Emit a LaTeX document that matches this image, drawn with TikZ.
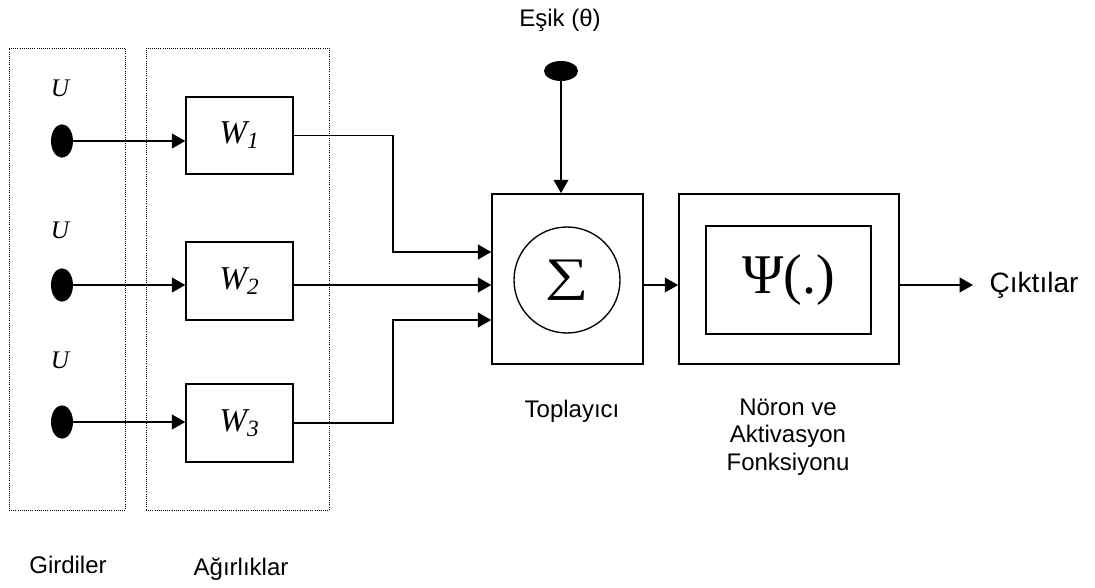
\documentclass[tikz,border=0pt]{standalone}
\usepackage{fontspec}
\usepackage{graphicx}
\setmainfont{Liberation Serif}
\setsansfont{Liberation Sans}
\usetikzlibrary{arrows.meta}
\usetikzlibrary{shapes}
\usetikzlibrary{positioning}

\begin{document}
\begin{tikzpicture}[
          x=0.75pt, y=-0.75pt,
          group/.style = {rectangle, draw, densely dotted, line width=0.6pt, inner sep=0pt},
          weight/.style = {rectangle, draw, line width=1.3pt, minimum width=80pt, minimum height=58pt, font=\fontsize{25}{25}\selectfont\itshape},
          dot/.style = {ellipse, fill=black, inner sep=0pt, minimum width=16.5pt, minimum height=25pt},
          block/.style = {rectangle, draw, line width=1.3pt, minimum width=113pt, minimum height=127.5pt},
          arrow/.style = {line width=1.3pt, -{Triangle[length=10pt,width=11pt]}},
          txt/.style = {font=\sffamily\fontsize{18}{20.6}\selectfont, align=center},
          ulabel/.style = {font=\fontsize{19}{19}\selectfont\itshape}
        ]
        \useasboundingbox (0,0) rectangle (1095,588);

        % Groups
        \node[group, minimum width=87pt, minimum height=346.5pt] (inputs) at (67,279) {};
        \node[group, minimum width=137.25pt, minimum height=346.5pt] (weights) at (237.5,279) {};

        % Inputs
        \node[dot] (in1) at (62,141) {};
        \node[dot] (in2) at (62,285) {};
        \node[dot] (in3) at (62,422) {};
        \node[ulabel] (u1) at (60,88) {U};
        \node[ulabel] (u2) at (60,230) {U};
        \node[ulabel] (u3) at (60,360) {U};

        % Weights
        \node[weight] (w1) at (239.5,135.5) {\raisebox{4pt}{W\textsubscript{1}}};
        \node[weight] (w2) at (239.5,281) {\raisebox{2pt}{W\textsubscript{2}}};
        \node[weight] (w3) at (239.5,423) {\raisebox{4pt}{W\textsubscript{3}}};

        % Summation and activation
        \node[block] (sum) at (567.5,279) {};
        \node[circle, draw, line width=1pt, inner sep=0pt, minimum size=79.5pt, font=\fontsize{35}{35}\selectfont] (sigma) at (567,280) {\scalebox{1.3}[1]{∑}};
        \node[block, minimum width=165pt] (act) at (789,279) {};
        \node[rectangle, draw, line width=1.3pt, minimum width=124pt, minimum height=81pt, font=\fontsize{42}{42}\selectfont] (psi) at (788.5,280) {Ψ(.)};

        % Threshold
        \node[dot, minimum width=25.5pt, minimum height=15pt] (theta) at (561,71) {};
        \node[txt, anchor=base] (esik) at (560,27) {Eşik (θ)};

        % Paths
        \draw[arrow] (in1) -- (in1 -| w1.west);
        \draw[arrow] (in2) -- (in2 -| w2.west);
        \draw[arrow] (in3) -- (in3 -| w3.west);

        \coordinate (j1) at (393,252);
        \coordinate (j3) at (393,320);
        \draw[arrow] (w1.east) -| (j1) -- (sum.west |- j1);
        \draw[arrow] (w2.east |- in2) -- (sum.west |- in2);
        \draw[arrow] (w3.east) -| (j3) -- (sum.west |- j3);
        \draw[arrow] (theta) -- (theta |- sum.north);
        \draw[arrow] (sum.east |- in2) -- (act.west |- in2);

        % Output
        \node[txt, anchor=west, font=\sffamily\fontsize{21}{21}\selectfont] (cikti) at (985,285) {Çıktılar};
        \draw[arrow, shorten >=9pt] (act.east |- cikti) -- (cikti.west);

        % Captions
        \node[txt, anchor=base] (toplayici) at (572,417) {Toplayıcı};
        \node[txt] (noron) at (788,437) {Nöron ve\\Aktivasyon\\Fonksiyonu};
        \node[txt, anchor=base] (girdiler) at (68,573) {Girdiler};
        \node[txt, anchor=base] (agirlik) at (241,575) {Ağırlıklar};

      \end{tikzpicture}
\end{document}
